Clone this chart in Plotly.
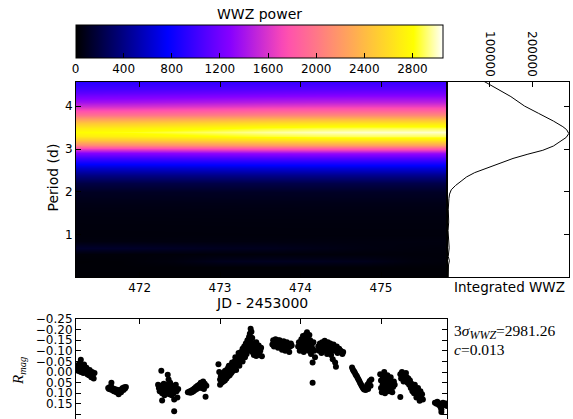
import plotly.graph_objects as go

# ---------------- data ----------------
# WWZ map: period grid (d), time grid (JD-2453000)
periods = [0.00, 0.25, 0.40, 0.55, 0.70, 0.85, 1.00, 1.25, 1.50, 1.75, 2.00, 2.20, 2.40,
           2.55, 2.70, 2.80, 2.90, 3.00, 3.10, 3.20, 3.30, 3.39, 3.50, 3.60, 3.70, 3.80,
           3.90, 4.00, 4.10, 4.20, 4.30, 4.40, 4.60]
power_profile = [15, 20, 60, 30, 110, 45, 35, 40, 50, 70, 110, 220, 420,
                 650, 900, 1080, 1350, 1750, 2250, 2650, 2900, 3000, 2880, 2650, 2400, 2100,
                 1850, 1650, 1480, 1330, 1200, 1100, 950]
jd_grid = [471.20, 471.80, 472.40, 473.00, 473.60, 474.20, 474.80, 475.40, 475.85]
band_scale = [0.93, 0.94, 0.955, 0.97, 0.985, 0.995, 1.0, 1.0, 1.0]
power_p040 = [15, 20, 40, 85, 95, 90, 80, 40, 30]
power_p070 = [130, 125, 110, 95, 90, 70, 50, 40, 35]

# integrated WWZ
int_periods = [0.02, 0.15, 0.30, 0.40, 0.50, 0.70, 0.90, 1.10, 1.30, 1.60, 1.85, 1.95, 2.05,
               2.15, 2.25, 2.35, 2.45, 2.55, 2.65, 2.78, 2.88, 2.97, 3.07, 3.17, 3.27, 3.36,
               3.45, 3.52, 3.65, 3.83, 3.90, 4.00, 4.22, 4.40, 4.53, 4.58]
int_power = [3000, 2500, 3500, 5500, 3000, 5000, 3500, 2500, 4000, 3000, 4500, 6000, 10000,
             20000, 33000, 46000, 65000, 92000, 122000, 155000, 190000, 225000, 250000, 265000,
             280000, 286000, 281000, 272000, 250000, 215000, 200000, 182000, 150000, 118000,
             93000, 86000]

# light curve
jd = [
    # 1
    471.215, 471.22, 471.23, 471.24, 471.25, 471.26, 471.27, 471.27, 471.28, 471.29, 471.30, 471.30,
    471.31, 471.32, 471.33, 471.34, 471.35, 471.36, 471.37, 471.38, 471.39, 471.40, 471.41, 471.42,
    471.43, 471.44,
    # 2
    471.61, 471.62, 471.63, 471.64, 471.65, 471.65, 471.66, 471.67, 471.68, 471.69, 471.70, 471.71,
    471.72, 471.73, 471.74, 471.75, 471.76, 471.77, 471.78, 471.79, 471.80, 471.81, 471.82, 471.83,
    # 3
    472.23, 472.24, 472.25, 472.26, 472.27, 472.27, 472.28, 472.28, 472.29, 472.30, 472.30, 472.31,
    472.32, 472.33, 472.33, 472.34, 472.35, 472.35, 472.36, 472.36, 472.37, 472.38, 472.38, 472.39,
    472.40, 472.40, 472.41, 472.42, 472.43, 472.43, 472.44, 472.45, 472.46, 472.47, 472.48,
    # 4
    472.60, 472.62, 472.63, 472.64, 472.65, 472.66, 472.67, 472.68, 472.69, 472.70, 472.71, 472.72,
    472.73, 472.74, 472.75, 472.76, 472.77, 472.78, 472.79, 472.80, 472.81, 472.82, 472.83,
    # 5
    472.98, 472.99, 473.00, 473.00, 473.01, 473.02, 473.02, 473.03, 473.04, 473.04, 473.05, 473.06,
    473.06, 473.07, 473.08, 473.08, 473.09, 473.10, 473.10, 473.11, 473.12, 473.12, 473.13, 473.14,
    473.15, 473.16, 473.16, 473.17, 473.18, 473.19, 473.20, 473.20, 473.21, 473.22, 473.23, 473.24,
    473.24, 473.25, 473.26, 473.27, 473.28, 473.28, 473.29, 473.30, 473.31, 473.31, 473.32, 473.33,
    473.34, 473.34, 473.35, 473.36, 473.36, 473.37, 473.37, 473.38, 473.38, 473.39, 473.39, 473.40,
    473.40, 473.41, 473.42, 473.42, 473.43, 473.44, 473.45, 473.45, 473.46, 473.47, 473.48, 473.49,
    473.50, 473.51, 473.52,
    473.03, 473.07, 473.11, 473.15, 473.19, 473.23, 473.27, 473.31, 473.35, 473.39, 473.43, 473.47,
    # 6
    473.65, 473.66, 473.67, 473.68, 473.69, 473.70, 473.71, 473.72, 473.72, 473.73, 473.74, 473.75,
    473.76, 473.77, 473.78, 473.79, 473.80, 473.81, 473.82, 473.83, 473.84, 473.85, 473.86, 473.87,
    473.88, 473.89,
    # 7
    473.97, 473.98, 473.99, 474.00, 474.01, 474.01, 474.02, 474.03, 474.03, 474.04, 474.05, 474.05,
    474.06, 474.07, 474.07, 474.08, 474.08, 474.09, 474.10, 474.10, 474.11, 474.12, 474.12, 474.13,
    474.14, 474.15, 474.15, 474.15, 474.16, 474.17, 474.18,
    # 8
    474.22, 474.23, 474.24, 474.25, 474.26, 474.27, 474.28, 474.29, 474.30, 474.31, 474.32, 474.33,
    474.34, 474.35, 474.36, 474.37, 474.38, 474.39, 474.40, 474.41, 474.42, 474.43, 474.44, 474.45,
    474.46, 474.48, 474.50, 474.52, 474.53,
    # 9
    474.64, 474.65, 474.66, 474.67, 474.68, 474.69, 474.70, 474.71, 474.72, 474.73, 474.74, 474.75,
    474.76, 474.77, 474.78, 474.79, 474.80, 474.81, 474.82, 474.83, 474.84, 474.85, 474.86, 474.87,
    474.88,
    # 10
    474.99, 475.00, 475.00, 475.01, 475.02, 475.02, 475.03, 475.04, 475.04, 475.05, 475.05, 475.06,
    475.07, 475.07, 475.08, 475.08, 475.09, 475.10, 475.10, 475.11, 475.12, 475.12, 475.13, 475.14,
    475.15, 475.16, 475.17,
    # 11
    475.24, 475.25, 475.24, 475.26, 475.27, 475.28, 475.29, 475.30, 475.31, 475.32, 475.33, 475.34,
    475.35, 475.36, 475.37, 475.38, 475.39, 475.40, 475.41, 475.42, 475.43, 475.44, 475.45, 475.46,
    475.47, 475.48, 475.49, 475.50, 475.51, 475.52,
    # 12
    475.67, 475.69, 475.70, 475.72, 475.73, 475.74, 475.75, 475.75, 475.76, 475.77, 475.79, 475.80,
    475.81, 475.82,
]
rmag = [
    # 1
    -0.030, -0.010, -0.025, -0.005, -0.040, -0.015, -0.058, 0.000, -0.030, -0.010, -0.020, 0.005,
    -0.035, -0.012, 0.000, -0.020, 0.010, -0.005, 0.015, -0.010, 0.005, 0.025, 0.000, 0.012,
    0.030, 0.005,
    # 2
    0.075, 0.080, 0.070, 0.082, 0.050, 0.072, 0.085, 0.078, 0.090, 0.080, 0.085, 0.095,
    0.083, 0.098, 0.105, 0.090, 0.085, 0.095, 0.080, 0.075, 0.085, 0.072, 0.078, 0.070,
    # 3
    0.060, 0.075, 0.090, 0.065, -0.006, 0.080, 0.100, 0.134, 0.070, 0.055, 0.090, 0.110,
    0.075, 0.085, 0.060, 0.100, 0.013, 0.070, 0.035, 0.090, 0.105, 0.080, 0.050, 0.095,
    0.065, 0.110, 0.085, 0.100, 0.130, 0.185, 0.075, 0.060, 0.090, 0.120, 0.080,
    # 4
    0.095, 0.092, 0.098, 0.088, 0.095, 0.083, 0.090, 0.078, 0.085, 0.070, 0.080, 0.065,
    0.075, 0.060, 0.070, 0.050, 0.075, 0.060, 0.045, 0.080, 0.055, 0.117, 0.065,
    # 5
    -0.037, 0.000, 0.060, 0.035, 0.020, 0.050, 0.010, 0.030, 0.045, 0.005, 0.025, 0.040,
    -0.005, 0.015, 0.030, -0.010, 0.005, 0.020, -0.020, 0.000, 0.015, -0.030, -0.010, 0.005,
    -0.025, -0.040, -0.005, -0.020, -0.050, -0.030, -0.010, -0.060, -0.040, -0.070, -0.050, -0.085,
    -0.030, -0.065, -0.095, -0.075, -0.110, -0.050, -0.090, -0.120, -0.070, -0.100, -0.135, -0.085,
    -0.115, -0.150, -0.100, -0.130, -0.165, -0.180, -0.110, -0.204, -0.145, -0.190, -0.120, -0.160,
    -0.095, -0.135, -0.110, -0.080, -0.125, -0.095, -0.140, -0.075, -0.110, -0.090, -0.125, -0.080,
    -0.100, -0.115, -0.074,
    0.015, -0.005, -0.030, -0.045, -0.070, -0.090, -0.060, -0.080, -0.120, -0.160, -0.100, -0.105,
    # 6
    -0.130, -0.150, -0.120, -0.140, -0.155, -0.130, -0.145, -0.115, -0.150, -0.135, -0.150, -0.125,
    -0.140, -0.105, -0.130, -0.145, -0.115, -0.100, -0.125, -0.140, -0.110, -0.130, -0.095, -0.120,
    -0.135, -0.125,
    # 7
    -0.120, -0.140, -0.100, -0.130, -0.155, -0.110, -0.140, -0.170, -0.120, -0.095, -0.150, -0.130,
    -0.175, -0.110, -0.145, -0.188, -0.125, -0.160, -0.140, -0.100, -0.175, -0.120, -0.150, -0.085,
    -0.130, -0.045, 0.050, -0.110, -0.140, -0.100, -0.070,
    # 8
    -0.120, -0.100, -0.135, -0.115, -0.090, -0.140, -0.120, -0.100, -0.148, -0.130, -0.110, -0.085,
    -0.140, -0.120, -0.100, -0.135, -0.080, -0.115, -0.060, -0.130, -0.100, -0.045, -0.025, -0.120,
    -0.090, -0.110, -0.100, -0.085, -0.095,
    # 9
    -0.021, -0.012, -0.005, 0.000, 0.008, 0.015, 0.020, 0.028, 0.035, 0.042, 0.050, 0.058,
    0.065, 0.072, 0.078, 0.082, 0.075, 0.085, 0.070, 0.060, 0.080, 0.050, 0.042, 0.065,
    0.035,
    # 10
    0.010, 0.040, 0.075, 0.095, 0.020, 0.060, 0.085, 0.000, 0.045, 0.070, 0.100, 0.030,
    0.055, 0.085, 0.015, 0.065, 0.040, 0.090, 0.075, 0.050, 0.025, 0.080, 0.060, 0.095,
    0.070, 0.045, 0.060,
    # 11
    0.010, 0.030, 0.118, 0.000, 0.020, 0.045, 0.015, 0.035, 0.005, 0.025, 0.050, 0.030,
    0.060, 0.040, 0.075, 0.055, 0.090, 0.070, 0.100, 0.060, 0.085, 0.120, 0.095, 0.075,
    0.110, 0.135, 0.090, 0.120, 0.105, 0.130,
    # 12
    0.145, 0.150, 0.140, 0.155, 0.148, 0.165, 0.175, 0.188, 0.150, 0.145, 0.155, 0.148,
    0.150, 0.160,
]

cbar_ticks = [0, 400, 800, 1200, 1600, 2000, 2400, 2800]
period_ticks = [1, 2, 3, 4]
jd_ticks = [472, 473, 474, 475]
int_ticks = [100000, 200000]
int_tick_labels = ["100000", "200000"]
mag_ticks = [-0.25, -0.20, -0.15, -0.10, -0.05, 0.00, 0.05, 0.10, 0.15, 0.20]

# ---------------- build ----------------
z = []
for i, p in enumerate(periods):
    if p == 0.40:
        z.append(list(power_p040))
    elif p == 0.70:
        z.append(list(power_p070))
    else:
        z.append([power_profile[i] * s for s in band_scale])


def gnuplot2(x):
    r = min(max(x / 0.32 - 0.78125, 0), 1)
    g = min(max(2 * x - 0.84, 0), 1)
    if x < 0.25:
        b = 4 * x
    elif x < 0.92:
        b = -2 * x + 1.84
    else:
        b = x / 0.08 - 11.5
    b = min(max(b, 0), 1)
    return f"rgb({int(round(r*255))},{int(round(g*255))},{int(round(b*255))})"


stops = sorted(set([i / 50 for i in range(51)] + [0.25, 0.92]))
cscale = [[s, gnuplot2(s)] for s in stops]

W, H = 573, 419
def px(x):
    return x / W
def py(y):
    return 1 - y / H

FONT = "DejaVu Sans"
SERIF = "Liberation Serif"

fig = go.Figure()
fig.add_trace(go.Heatmap(
    x=jd_grid, y=periods, z=z, zmin=0, zmax=3050, zsmooth="best",
    colorscale=cscale, xaxis="x", yaxis="y", hoverinfo="skip",
    colorbar=dict(orientation="h", x=px(75.5), xanchor="left", y=py(25), yanchor="top",
                  lenmode="pixels", len=367, thicknessmode="pixels", thickness=33,
                  xpad=0, ypad=0, outlinewidth=1, outlinecolor="black",
                  ticks="inside", ticklen=5, tickcolor="black", tickvals=cbar_ticks,
                  tickfont=dict(size=12, family=FONT, color="black")),
))
fig.add_trace(go.Scatter(x=int_power, y=int_periods, mode="lines",
                         line=dict(color="black", width=1), xaxis="x2", yaxis="y2",
                         showlegend=False, hoverinfo="skip"))
fig.add_trace(go.Scatter(x=jd, y=rmag, mode="markers",
                         marker=dict(color="black", size=6), xaxis="x3", yaxis="y3",
                         showlegend=False, hoverinfo="skip"))

common = dict(showline=True, linecolor="black", linewidth=1, ticks="inside", ticklen=5,
              tickcolor="black", showgrid=False, zeroline=False, automargin=False,
              tickfont=dict(size=12, family=FONT, color="black"))

fig.update_layout(
    width=W, height=H, margin=dict(l=0, r=0, t=0, b=0, autoexpand=False),
    paper_bgcolor="white", plot_bgcolor="white", showlegend=False,
    font=dict(family=FONT, color="black"),
    xaxis=dict(domain=[px(76), px(447)], range=[471.21, 475.82], anchor="y",
               tickvals=jd_ticks, mirror="ticks", **common),
    yaxis=dict(domain=[py(277), py(82)], range=[0.02, 4.56], anchor="x",
               tickvals=period_ticks, mirror=True, **common),
    xaxis2=dict(domain=[px(447), px(569)], range=[0, 286500], anchor="y2", side="top",
                tickvals=int_ticks, ticktext=int_tick_labels, tickangle=90, mirror=True,
                **common),
    yaxis2=dict(domain=[py(277), py(82)], range=[0.02, 4.56], anchor="x2", side="right",
                tickvals=period_ticks, showticklabels=False, mirror=True, **common),
    xaxis3=dict(domain=[px(76), px(447)], range=[471.21, 475.82], anchor="y3", side="top",
                tickvals=jd_ticks, showticklabels=False, **common),
    yaxis3=dict(domain=[0, py(319)], range=[0.2214, -0.25], anchor="x3",
                tickvals=mag_ticks, tickformat=".2f", mirror="ticks",
                **{**common, "tickfont": dict(size=12, family=FONT, color="black")}),
)

ann = [
    dict(text="WWZ power", x=px(259), y=py(14), font=dict(size=14)),
    dict(text="Period (d)", x=px(52.5), y=py(178), textangle=-90, font=dict(size=14)),
    dict(text="JD - 2453000", x=px(261.5), y=py(303), font=dict(size=14)),
    dict(text="Integrated WWZ", x=px(509), y=py(287), font=dict(size=13.5)),
    dict(text="<i>R</i><sub><i>mag</i></sub>", x=px(19), y=py(371), textangle=-90,
         font=dict(size=15, family=SERIF)),
    dict(text="3<i>σ</i><sub><span style='font-size:12px'><i>WWZ</i></span></sub>=2981.26",
         x=px(452), y=py(331.5), xanchor="left", font=dict(size=15.5, family=SERIF)),
    dict(text="<i>c</i>=0.013", x=px(452), y=py(349), xanchor="left",
         font=dict(size=15.5, family=SERIF)),
]
for a in ann:
    a.setdefault("xanchor", "center")
    fig.add_annotation(xref="paper", yref="paper", showarrow=False, yanchor="middle", **a)

fig.write_html("out.html", config={"displayModeBar": False},
               post_script="document.body.style.margin='0';document.body.style.overflow='hidden';")
